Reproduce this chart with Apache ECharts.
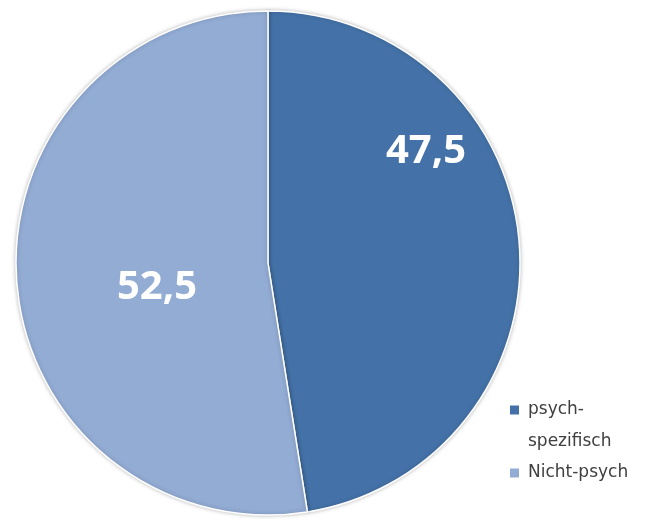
<!DOCTYPE html>
<html>
<head>
<meta charset="utf-8">
<script src="https://cdn.jsdelivr.net/npm/echarts@6/dist/echarts.min.js"></script>
<style>html,body{margin:0;padding:0;background:#fff}#c{width:658px;height:520px}</style>
</head>
<body>
<div id="c"></div>
<script>
var categories = ['psych-\nspezifisch', 'Nicht-psych'];
var values = [47.5, 52.5];
var colors = ['#4472a8', '#93acd4'];
var labelPos = [[426, 152], [157, 288]];

var chart = echarts.init(document.getElementById('c'));
var LH = 31.5;
chart.setOption({
  animation: false,
  color: colors,
  legend: {
    orient: 'vertical',
    left: 503,
    top: 405 - LH * 1.5,
    itemWidth: 11,
    itemHeight: 11,
    itemGap: 0,
    icon: 'rect',
    formatter: function (name) { return name.indexOf('\n') >= 0 ? '\n' + name : name; },
    textStyle: { fontFamily: 'DejaVu Sans', fontSize: 17, color: '#404040', lineHeight: LH, padding: [0, 0, 0, 3] },
    data: categories
  },
  series: [{
    type: 'pie',
    center: [268, 263],
    radius: 252,
    startAngle: 90,
    clockwise: true,
    itemStyle: { borderColor: '#ffffff', borderWidth: 1.5, shadowBlur: 4, shadowColor: 'rgba(0,0,0,0.25)' },
    label: {
      show: true,
      position: 'inside',
      color: '#ffffff',
      fontFamily: 'Open Sans',
      fontWeight: 'bold',
      fontSize: 40,
      formatter: function (p) { return String(p.value).replace('.', ','); }
    },
    labelLayout: function (p) {
      return { x: labelPos[p.dataIndex][0], y: labelPos[p.dataIndex][1], align: 'center', verticalAlign: 'middle' };
    },
    emphasis: { disabled: true },
    data: categories.map(function (c, i) { return { name: c, value: values[i] }; })
  }]
});
</script>
</body>
</html>
